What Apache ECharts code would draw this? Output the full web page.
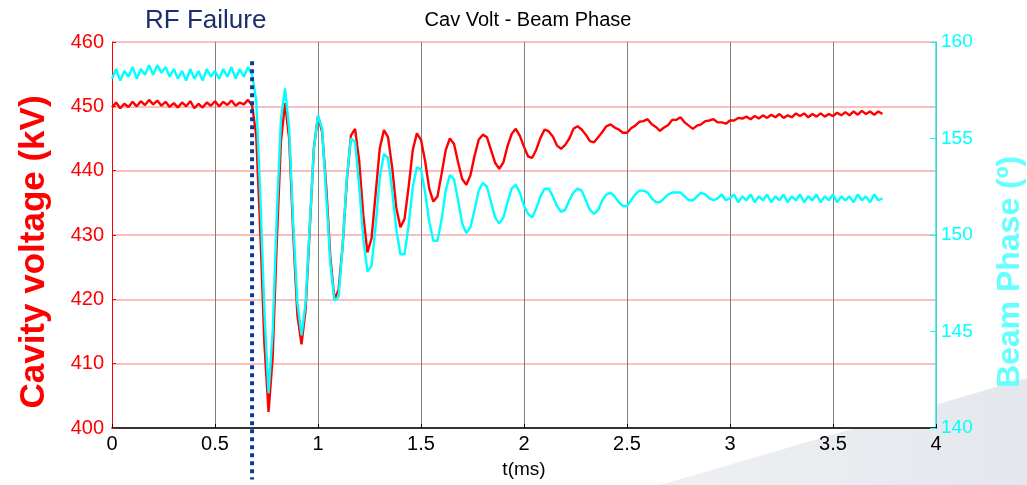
<!DOCTYPE html>
<html>
<head>
<meta charset="utf-8">
<script src="https://cdn.jsdelivr.net/npm/echarts@6/dist/echarts.min.js"></script>
<style>
  html, body { margin: 0; padding: 0; background: #fff; }
  #main { width: 1027px; height: 485px; }
</style>
</head>
<body>
<div id="main"></div>
<script>
// scope trace, sampled every 0.02 ms starting at t = 0
var tStart = 0;
var tStep = 0.02;

// cavity voltage (kV)
var cavVolt = [
  449.8, 450.6, 449.7, 450.4, 449.9, 450.7, 450.0, 450.8, 450.2, 451.0,
  450.3, 450.9, 450.1, 450.7, 449.9, 450.5, 449.8, 450.6, 450.0, 450.8,
  449.7, 450.4, 449.8, 450.6, 450.1, 450.8, 450.0, 450.7, 450.2, 450.9,
  450.1, 450.6, 450.3, 451.0, 450.2, 445.5, 430.5, 413.0, 402.5, 411.0,
  429.0, 444.5, 450.5, 445.0, 430.0, 417.5, 413.0, 418.5, 431.0, 443.5,
  448.5, 446.0, 437.5, 426.5, 420.0, 421.5, 428.5, 438.5, 445.5, 446.5,
  441.5, 433.0, 427.3, 429.5, 436.5, 443.5, 446.3, 445.2, 440.5, 434.2,
  431.2, 432.5, 437.5, 443.2, 445.8, 444.8, 441.5, 437.2, 435.2, 436.0,
  439.5, 443.2, 445.0, 444.2, 441.3, 438.7, 437.8, 439.3, 442.3, 444.8,
  445.6, 445.2, 443.2, 441.2, 440.3, 441.3, 443.8, 445.7, 446.5, 445.4,
  443.7, 442.2, 442.0, 443.3, 445.1, 446.4, 446.1, 445.3, 443.9, 443.4,
  444.0, 445.0, 446.5, 446.9, 446.4, 445.6, 444.6, 444.4, 445.2, 446.0,
  446.9, 447.2, 446.7, 446.4, 445.9, 445.9, 446.6, 447.0, 447.6, 447.7,
  448.0, 447.2, 446.8, 446.2, 446.7, 447.1, 447.9, 447.9, 448.3, 447.5,
  447.0, 446.5, 447.0, 447.2, 447.7, 447.8, 448.0, 447.5, 447.5, 447.3,
  447.8, 447.8, 448.2, 448.1, 448.4, 448.0, 448.5, 448.1, 448.6, 448.2,
  448.7, 448.3, 448.8, 448.2, 448.6, 448.3, 448.9, 448.5, 448.9, 448.3,
  448.8, 448.4, 448.9, 448.4, 448.8, 448.5, 449.0, 448.6, 449.1, 448.6,
  449.2, 448.7, 449.3, 448.8, 449.2, 448.7, 449.2, 448.8
];

// beam phase (deg)
var beamPhase = [
  158.1, 158.6, 158.0, 158.5, 158.2, 158.7, 158.1, 158.6, 158.3, 158.8,
  158.3, 158.8, 158.4, 158.7, 158.2, 158.6, 158.1, 158.5, 158.0, 158.6,
  158.1, 158.5, 158.0, 158.6, 158.2, 158.5, 158.1, 158.6, 158.2, 158.7,
  158.1, 158.6, 158.2, 158.7, 158.3, 157.0, 152.0, 146.0, 141.8, 145.0,
  151.0, 156.0, 157.6, 155.5, 150.5, 146.5, 144.8, 146.5, 150.5, 154.5,
  156.2, 155.5, 152.0, 148.5, 146.6, 146.8, 149.5, 153.0, 155.0, 154.8,
  152.5, 149.8, 148.1, 148.4, 150.5, 153.0, 154.2, 154.0, 152.3, 150.3,
  149.0, 149.0, 150.5, 152.5, 153.5, 153.4, 152.2, 150.7, 149.7, 149.7,
  150.8, 152.3, 153.1, 152.9, 151.8, 150.6, 150.1, 150.4, 151.3, 152.3,
  152.7, 152.5, 151.7, 150.9, 150.6, 150.9, 151.7, 152.4, 152.6, 152.2,
  151.5, 151.1, 150.9, 151.4, 152.0, 152.4, 152.4, 152.0, 151.5, 151.2,
  151.3, 151.8, 152.2, 152.4, 152.3, 151.8, 151.3, 151.1, 151.3, 151.8,
  152.1, 152.2, 152.0, 151.7, 151.5, 151.5, 151.8, 152.1, 152.3, 152.3,
  152.2, 151.9, 151.7, 151.7, 151.9, 152.1, 152.2, 152.2, 152.2, 152.0,
  151.8, 151.8, 152.0, 152.2, 152.1, 151.9, 151.8, 151.9, 152.1, 151.8,
  151.9, 152.1, 151.7, 152.0, 151.8, 152.1, 151.7, 152.0, 151.8, 152.1,
  151.7, 152.0, 151.8, 152.1, 151.7, 152.0, 151.8, 152.1, 151.7, 152.0,
  151.8, 152.1, 151.7, 152.0, 151.8, 152.1, 151.7, 152.0, 151.8, 152.0,
  151.7, 152.1, 151.8, 152.0, 151.7, 152.1, 151.8, 151.9
];

// RF failure marker (ms) and its drawn span (kV)
var rfFailT = 0.68;
var rfFailSpan = [457, 392];

var font = 'Arial, "Liberation Sans", sans-serif';

function toPairs(arr) {
    var out = [];
    for (var i = 0; i < arr.length; i++) {
        out.push([+(tStart + i * tStep).toFixed(3), arr[i]]);
    }
    return out;
}

var chart = echarts.init(document.getElementById('main'));

var option = {
    animation: false,
    backgroundColor: '#fff',
    textStyle: { fontFamily: font },
    title: {
        text: 'Cav Volt - Beam Phase',
        left: 523,
        top: 5,
        textAlign: 'center',
        textStyle: { fontSize: 20, fontWeight: 'normal', color: '#000', fontFamily: font }
    },
    graphic: [
        {
            type: 'polygon',
            z: -10,
            silent: true,
            shape: { points: [[660, 485], [1027, 378], [1027, 485]] },
            style: {
                fill: new echarts.graphic.LinearGradient(0, 0, 1, 0, [
                    { offset: 0, color: '#eef0f3' },
                    { offset: 1, color: '#e4e7ec' }
                ])
            }
        },
        {
            type: 'text',
            left: 145,
            top: 8,
            style: { text: 'RF Failure', fontSize: 26, fill: '#1b2f6e', fontFamily: font }
        },
        // axis titles, placed as on the original slide
        {
            type: 'text',
            x: 34,
            y: 252,
            rotation: Math.PI / 2,
            style: {
                text: 'Cavity voltage (kV)',
                fontSize: 35, fontWeight: 'bold', fill: '#ff0000', fontFamily: font,
                align: 'center', verticalAlign: 'middle'
            }
        },
        {
            type: 'text',
            x: 1010,
            y: 272,
            rotation: Math.PI / 2,
            style: {
                text: 'Beam Phase (º)',
                fontSize: 32, fontWeight: 'bold', fill: '#66ffff', fontFamily: font,
                align: 'center', verticalAlign: 'middle'
            }
        }
    ],
    grid: {
        left: 112, right: 91, top: 42, bottom: 57,
        show: true, backgroundColor: '#fff', borderWidth: 0
    },
    xAxis: {
        type: 'value',
        min: 0, max: 4, interval: 0.5,
        name: 't(ms)',
        nameLocation: 'middle',
        nameGap: 32,
        nameTextStyle: { fontSize: 19, color: '#000' },
        axisLine: { lineStyle: { color: '#000', width: 1.5 } },
        axisTick: { inside: true, length: 4, lineStyle: { color: '#000' } },
        axisLabel: { fontSize: 20, color: '#000', margin: 6 },
        splitLine: { show: true, lineStyle: { color: '#7f7f7f', width: 1 } }
    },
    yAxis: [
        {
            type: 'value',
            min: 400, max: 460, interval: 10,
            position: 'left',
            axisLine: { show: true, lineStyle: { color: '#ff0000', width: 1 } },
            axisTick: { show: true, inside: true, length: 4, lineStyle: { color: '#ff0000' } },
            axisLabel: { fontSize: 20, color: '#ff0000', margin: 8 },
            splitLine: { show: true, lineStyle: { color: '#f7a8a8', width: 1.5 } }
        },
        {
            type: 'value',
            min: 140, max: 160, interval: 5,
            position: 'right',
            axisLine: { show: true, lineStyle: { color: '#33e6e6', width: 1.5 } },
            axisTick: { show: true, inside: true, length: 6, lineStyle: { color: '#00ffff' } },
            axisLabel: { fontSize: 19, color: '#00ffff', margin: 5 },
            splitLine: { show: false }
        }
    ],
    series: [
        {
            name: 'Cavity voltage',
            type: 'line',
            yAxisIndex: 0,
            data: toPairs(cavVolt),
            showSymbol: false,
            lineStyle: { color: '#ff0000', width: 2.4 },
            z: 3
        },
        {
            name: 'Beam phase',
            type: 'line',
            yAxisIndex: 1,
            data: toPairs(beamPhase),
            showSymbol: false,
            lineStyle: { color: '#00ffff', width: 2.4 },
            z: 4
        },
        {
            name: 'RF failure',
            type: 'line',
            yAxisIndex: 0,
            data: [[rfFailT, rfFailSpan[0]], [rfFailT, rfFailSpan[1]]],
            showSymbol: false,
            clip: false,
            lineStyle: { color: '#0b3c9a', width: 4, type: [4, 4], cap: 'butt' },
            z: 6
        }
    ]
};

chart.setOption(option);
</script>
</body>
</html>
